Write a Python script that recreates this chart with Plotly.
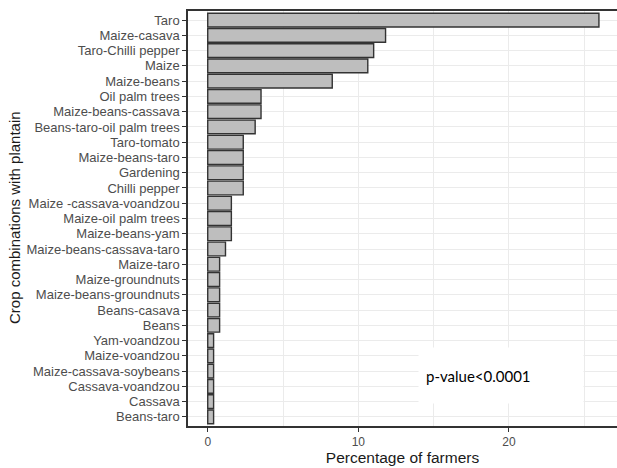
import plotly.graph_objects as go

# Categories listed bottom to top
crops = [
    "Beans-taro", "Cassava", "Cassava-voandzou", "Maize-cassava-soybeans",
    "Maize-voandzou", "Yam-voandzou", "Beans", "Beans-casava",
    "Maize-beans-groundnuts", "Maize-groundnuts", "Maize-taro",
    "Maize-beans-cassava-taro", "Maize-beans-yam", "Maize-oil palm trees",
    "Maize -cassava-voandzou", "Chilli pepper", "Gardening", "Maize-beans-taro",
    "Taro-tomato", "Beans-taro-oil palm trees", "Maize-beans-cassava",
    "Oil palm trees", "Maize-beans", "Maize", "Taro-Chilli pepper",
    "Maize-casava", "Taro",
]
percent = [
    0.39, 0.39, 0.39, 0.39,
    0.39, 0.39, 0.79, 0.79,
    0.79, 0.79, 0.79,
    1.18, 1.57, 1.57,
    1.57, 2.36, 2.36, 2.36,
    2.36, 3.15, 3.54,
    3.54, 8.27, 10.63, 11.02,
    11.81, 25.98,
]
x_ticks = [0, 10, 20]

W, H = 617, 468
L, R, T, B = 188, 0, 11, 42
pw = W - L - R

fig = go.Figure(go.Bar(
    x=percent, y=crops, orientation="h", width=0.9,
    marker=dict(color="#BEBEBE", line=dict(color="#333333", width=1.4)),
))

n = len(crops)
fig.update_layout(
    width=W, height=H,
    margin=dict(l=L, r=R, t=T, b=B),
    plot_bgcolor="white", paper_bgcolor="white",
    showlegend=False,
    font=dict(family="Liberation Sans, Arial, sans-serif"),
    xaxis=dict(
        range=[-1.31, 27.18], tickvals=x_ticks, ticks="outside", ticklen=4,
        tickcolor="#333333", tickfont=dict(size=12, color="#4D4D4D"),
        showgrid=True, gridcolor="#EBEBEB", gridwidth=1,
        minor=dict(tick0=0, dtick=5, showgrid=True, gridcolor="#EBEBEB", gridwidth=1),
        showline=True, linecolor="#333333", linewidth=1.5, mirror=True,
        zeroline=False,
        title=dict(text="Percentage of farmers", font=dict(size=15.5, color="#1A1A1A"), standoff=2),
    ),
    yaxis=dict(
        type="category", categoryorder="array", categoryarray=crops,
        tickmode="linear", tick0=0, dtick=1,
        range=[-0.6, n - 0.4], ticks="outside", ticklen=4, tickcolor="#333333",
        tickfont=dict(size=13, color="#4D4D4D"),
        showgrid=True, gridcolor="#EBEBEB", gridwidth=1,
        showline=True, linecolor="#333333", linewidth=1.5,
        zeroline=False,
    ),
)

fig.add_annotation(
    xref="paper", yref="paper",
    x=(15 - L) / pw, y=(H - B - 218) / (H - T - B),
    text="Crop combinations with plantain", textangle=-90,
    showarrow=False, xanchor="center", yanchor="middle",
    font=dict(size=15, color="#1A1A1A"),
)

fig.add_annotation(
    x=19.48, y=2.74, text="p-value<0.0001", showarrow=False,
    xanchor="center", yanchor="middle",
    width=150, height=41, align="left", valign="middle",
    bgcolor="white", borderpad=7,
    font=dict(family="Lato, Open Sans, sans-serif", size=15, color="black"),
)

fig.write_html("out.html", config={"displayModeBar": False},
               post_script="document.body.style.margin='0';")
